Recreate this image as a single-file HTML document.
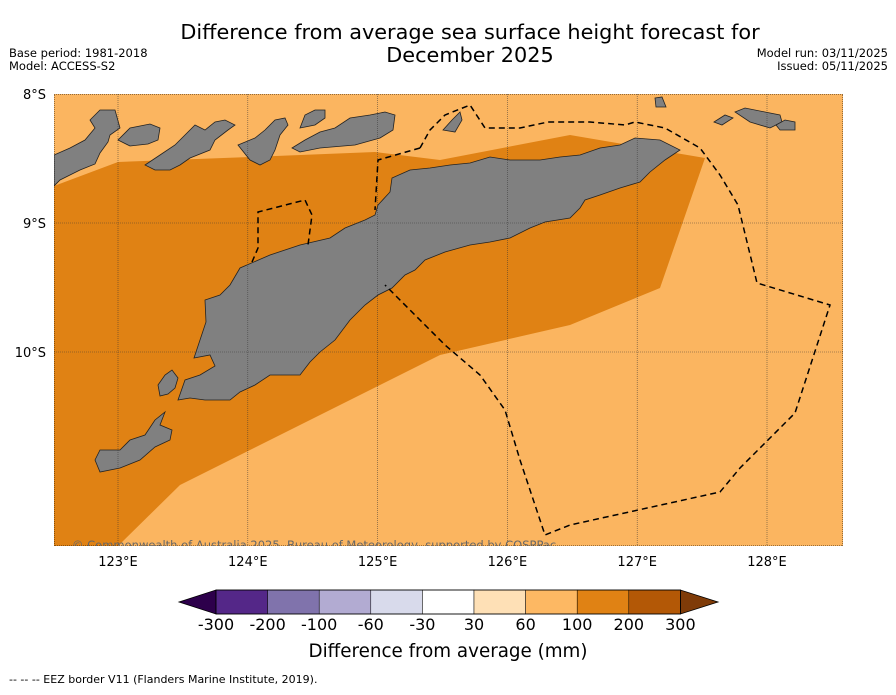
<!DOCTYPE html>
<html><head><meta charset="utf-8"><style>
body{margin:0;background:#fff;width:896px;height:690px;overflow:hidden;font-family:"Liberation Sans","DejaVu Sans",sans-serif;}
svg text{font-family:"DejaVu Sans","Liberation Sans",sans-serif;}
</style></head><body>
<svg id="chart" width="896" height="690">
<text x="470" y="39" font-size="20.8" text-anchor="middle">Difference from average sea surface height forecast for</text>
<text x="470" y="62" font-size="20.8" text-anchor="middle">December 2025</text>
<text x="9" y="57" font-size="11.5">Base period: 1981-2018</text>
<text x="9" y="70" font-size="11.5">Model: ACCESS-S2</text>
<text x="888" y="57" font-size="11.5" text-anchor="end">Model run: 03/11/2025</text>
<text x="888" y="70" font-size="11.5" text-anchor="end">Issued: 05/11/2025</text>
<defs><clipPath id="mc"><rect x="54" y="94" width="789" height="452"/></clipPath></defs>
<g id="map" clip-path="url(#mc)">
<rect x="54" y="94" width="789" height="452" fill="#fbb560"/>
<polygon fill="#e08214" points="54,186 118,162 250,157 375,152 440,160 570,135 705,158 660,288 570,325 440,355 180,485 118,546 54,546"/>
<g fill="#808080" stroke="#222" stroke-width="0.8">
<polygon points="194,358 206,322 205,300 220,295 230,285 240,268 270,255 300,245 330,238 345,228 365,220 375,215 378,205 390,192 392,178 410,170 430,168 450,165 470,163 490,157 510,160 540,160 560,157 580,155 600,148 620,145 635,138 660,140 680,150 665,160 650,172 640,182 620,188 600,195 585,200 580,208 570,218 545,222 530,228 510,238 490,242 470,245 445,252 425,260 415,270 405,275 392,288 378,295 365,305 350,320 335,340 320,352 310,362 300,375 270,375 255,385 240,392 230,400 205,400 190,398 178,400 185,380 200,375 215,366 210,355"/>
<polygon points="95,460 100,472 120,468 140,460 155,447 170,440 172,430 160,425 165,412 155,420 145,435 130,440 120,450 100,450"/>
<polygon points="158,385 165,375 172,370 178,378 175,388 168,394 160,396"/>
<polygon points="54,155 70,148 85,140 95,128 90,120 100,110 115,110 120,128 110,135 108,142 100,153 95,164 80,170 60,180 54,186"/>
<polygon points="118,140 130,128 150,124 160,128 158,140 148,144 130,146"/>
<polygon points="145,165 160,155 175,145 185,135 195,125 205,130 215,122 225,120 235,125 228,130 215,140 210,150 190,158 180,165 170,170 155,170"/>
<polygon points="238,145 255,138 265,130 275,120 285,118 288,125 280,135 275,150 270,160 260,165 250,160"/>
<polygon points="292,148 305,140 320,132 335,128 350,118 370,115 385,112 395,115 393,130 380,138 355,145 320,148 300,152"/>
<polygon points="300,128 305,115 315,110 325,110 325,118 315,125"/>
<polygon points="443,130 452,120 460,112 462,120 455,132"/>
<polygon points="735,112 745,108 765,112 780,115 782,122 770,128 750,122"/>
<polygon points="776,125 785,120 795,122 795,130 780,130"/>
<polygon points="714,122 725,115 733,118 722,125"/>
<polygon points="655,98 662,97 666,107 656,107"/>
</g>
<g id="grid" stroke="#333" stroke-width="0.6" stroke-dasharray="1,1" opacity="0.8"></g>
<polyline fill="none" stroke="#000" stroke-width="1.5" stroke-dasharray="6,4" points="420,148 430,130 445,115 470,105 485,128 520,128 548,122 590,122 625,125 635,122 665,128 700,148 720,175 738,205 757,283 830,305 795,413 740,468 720,492 570,525 545,535 520,460 505,410 480,375 445,345 420,320 400,300 385,285"/>
<polyline fill="none" stroke="#000" stroke-width="1.5" stroke-dasharray="6,4" points="420,148 378,160 375,210"/>
<polyline fill="none" stroke="#000" stroke-width="1.5" stroke-dasharray="6,4" points="252,262 258,248 258,212 305,200 312,215 308,245"/>
<rect x="54" y="94" width="789" height="452" fill="none" stroke="#000" stroke-width="0.8" stroke-dasharray="1,1"/>
<text x="72" y="549" font-size="11.5" fill="#666">© Commonwealth of Australia 2025, Bureau of Meteorology, supported by COSPPac</text>
</g>
<g id="axes" font-size="13"></g>
<g id="cbar"></g>
<text x="448" y="657" font-size="18.3" text-anchor="middle">Difference from average (mm)</text>
<text x="9" y="683" font-size="11">--  --  -- EEZ border V11 (Flanders Marine Institute, 2019).</text>
</svg>
<script>
const lonTicks=[123,124,125,126,127,128];
const latTicks=[8,9,10];
const cbarLabels=["-300","-200","-100","-60","-30","30","60","100","200","300"];
const cbarColors=["#542788","#8073ac","#b2abd2","#d8daeb","#ffffff","#fee0b6","#fdb863","#e08214","#b35806"];
const cbarExtendLow="#2d004b", cbarExtendHigh="#7f3b08";
const NS="http://www.w3.org/2000/svg";
const xLon=l=>118+(l-123)*129.8;
const yLat=l=>94+(l-8)*129;
function mk(t,a,p){const e=document.createElementNS(NS,t);for(const k in a)e.setAttribute(k,a[k]);p.appendChild(e);return e;}
const grid=document.getElementById('grid'),axes=document.getElementById('axes');
lonTicks.forEach(l=>{
 const ln=mk('line',{x1:xLon(l),x2:xLon(l),y1:94,y2:546},grid);
 
 
 const t=mk('text',{x:xLon(l),y:566,'text-anchor':'middle'},axes);t.textContent=l+'°E';
 
 
});
latTicks.forEach(l=>{
 const ln=mk('line',{x1:54,x2:843,y1:yLat(l),y2:yLat(l)},grid);
 
 
 const t=mk('text',{x:46,y:yLat(l)+5,'text-anchor':'end'},axes);t.textContent=l+'°S';
 
 
});
const cb=document.getElementById('cbar');
const x0=216,w=51.6,y0=590,h=24;
const xc=i=>x0+i*w;
const n=cbarColors.length;
const lo=mk('polygon',{points:`${xc(0)},${y0} ${xc(0)},${y0+h} 179,${y0+h/2}`,fill:cbarExtendLow,stroke:'#000','stroke-width':0.8},cb);


const hi=mk('polygon',{points:`${xc(n)},${y0} ${xc(n)},${y0+h} 718,${y0+h/2}`,fill:cbarExtendHigh,stroke:'#000','stroke-width':0.8},cb);


cbarColors.forEach((c,i)=>{
 const r=mk('rect',{x:xc(i),y:y0,width:w,height:h,fill:c,stroke:'#000','stroke-width':0.5},cb);
 
 
});
mk('rect',{x:xc(0),y:y0,width:w*n,height:h,fill:'none',stroke:'#000','stroke-width':0.8},cb);
cbarLabels.forEach((s,i)=>{
 const t=mk('text',{x:xc(i),y:630,'font-size':16,'text-anchor':'middle'},cb);t.textContent=s;
 
 
});
</script>
</body></html>
